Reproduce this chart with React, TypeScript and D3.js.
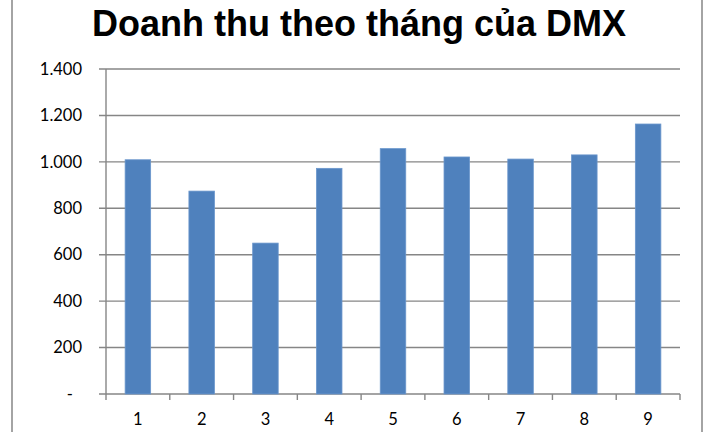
import React from "react";
import * as d3 from "d3";

const months = ["1", "2", "3", "4", "5", "6", "7", "8", "9"];
const revenue = [1009, 874, 650, 972, 1057, 1021, 1012, 1030, 1163];
const yTicks = [0, 200, 400, 600, 800, 1000, 1200, 1400];
const title = "Doanh thu theo tháng của DMX";

const W = 720;
const H = 432;
const plot = { left: 106, right: 680, top: 69, bottom: 394 };

const fmt = (v: number) => (v === 0 ? "-" : d3.format(",")(v).replace(/,/g, "."));

export default function App() {
  const x = d3
    .scaleBand<string>()
    .domain(months)
    .range([plot.left, plot.right])
    .paddingInner(0.6)
    .paddingOuter(0.3);
  const band = d3.scaleBand<string>().domain(months).range([plot.left, plot.right]);
  const y = d3.scaleLinear().domain([0, 1400]).range([plot.bottom, plot.top]);
  const grid = "#868686";
  const font = "Lato, 'Open Sans', sans-serif";

  return (
    <svg
      width={W}
      height={H}
      style={{ position: "absolute", left: 0, top: 0, background: "#fff" }}
    >
      <rect x={0} y={0} width={W} height={H} fill="#fff" />
      <rect x={12} y={-3} width={690} height={H + 6} fill="#fff" stroke={grid} strokeWidth={1.5} />
      <text
        x={359}
        y={36}
        textAnchor="middle"
        fontFamily="'Liberation Sans', Arial, sans-serif"
        fontWeight="bold"
        fontSize={36}
        fill="#000"
      >
        {title}
      </text>
      {yTicks.map((t) => (
        <g key={t}>
          <line x1={99} x2={plot.right} y1={y(t)} y2={y(t)} stroke={grid} strokeWidth={1.4} />
          <text
            x={t === 0 ? 73 : 82}
            y={y(t)}
            dy="0.35em"
            textAnchor="end"
            fontFamily={font}
            fontSize={16.5}
            fill="#000"
          >
            {fmt(t)}
          </text>
        </g>
      ))}
      <line x1={plot.left} x2={plot.left} y1={plot.top} y2={plot.bottom + 6} stroke={grid} strokeWidth={1.4} />
      {months.map((m) => (
        <line
          key={"t" + m}
          x1={(band(m) as number) + band.bandwidth()}
          x2={(band(m) as number) + band.bandwidth()}
          y1={plot.bottom}
          y2={plot.bottom + 6}
          stroke={grid}
          strokeWidth={1.4}
        />
      ))}
      {months.map((m, i) => (
        <rect
          key={"b" + m}
          x={x(m)}
          y={y(revenue[i])}
          width={x.bandwidth()}
          height={plot.bottom - y(revenue[i])}
          fill="#4F81BD"
          stroke="#6A96CC"
          strokeWidth={0.8}
        />
      ))}
      {months.map((m) => (
        <text
          key={"l" + m}
          x={(band(m) as number) + band.bandwidth() / 2}
          y={425}
          textAnchor="middle"
          fontFamily={font}
          fontSize={16.5}
          fill="#000"
        >
          {m}
        </text>
      ))}
    </svg>
  );
}
